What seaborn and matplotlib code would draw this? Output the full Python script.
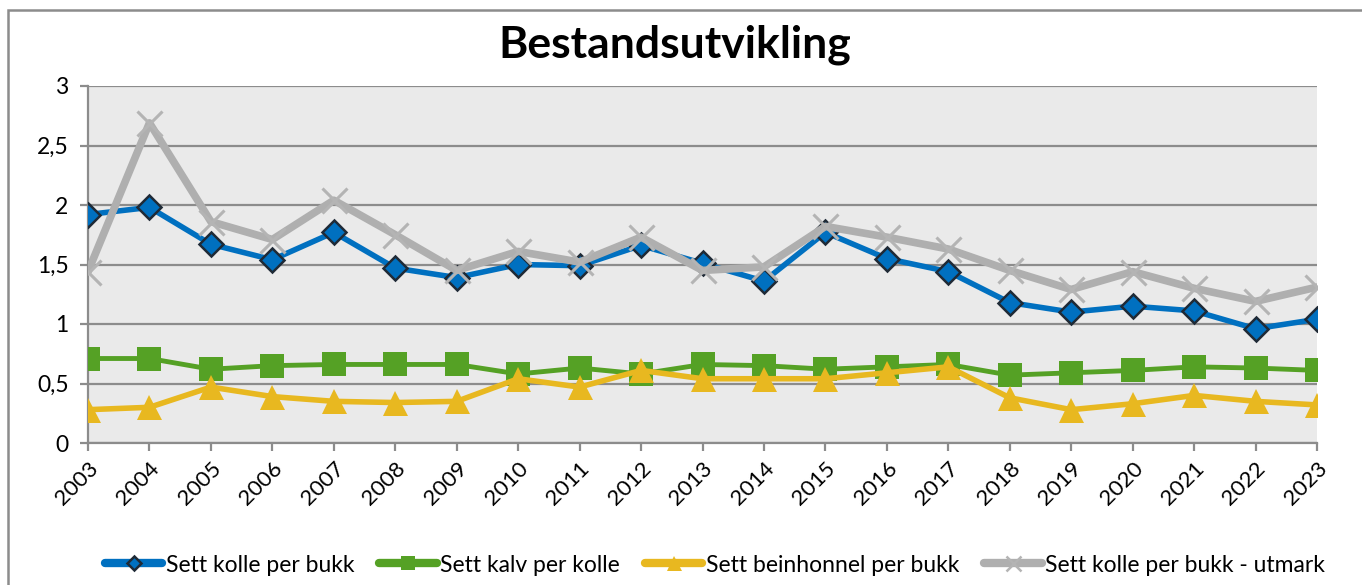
import numpy as np
import pandas as pd
import matplotlib
matplotlib.use("Agg")
import matplotlib.pyplot as plt
import seaborn as sns
from matplotlib.patches import Rectangle
from matplotlib.lines import Line2D

years = [str(y) for y in range(2003, 2024)]

kolle_per_bukk = [1.92, 1.98, 1.67, 1.54, 1.77, 1.47, 1.39, 1.50, 1.49, 1.66, 1.51,
                  1.36, 1.77, 1.55, 1.44, 1.18, 1.10, 1.15, 1.11, 0.96, 1.04]
kalv_per_kolle = [0.71, 0.71, 0.62, 0.65, 0.66, 0.66, 0.66, 0.58, 0.63, 0.58, 0.66,
                  0.65, 0.62, 0.64, 0.66, 0.57, 0.59, 0.61, 0.64, 0.63, 0.61]
beinhonnel_per_bukk = [0.28, 0.30, 0.47, 0.39, 0.35, 0.34, 0.35, 0.54, 0.47, 0.61, 0.54,
                       0.54, 0.54, 0.59, 0.64, 0.38, 0.28, 0.33, 0.40, 0.35, 0.32]
kolle_per_bukk_utmark = [1.44, 2.69, 1.86, 1.71, 2.04, 1.75, 1.45, 1.61, 1.52, 1.73, 1.45,
                         1.48, 1.82, 1.73, 1.63, 1.45, 1.29, 1.44, 1.30, 1.19, 1.31]

series_names = ["Sett kolle per bukk", "Sett kalv per kolle",
                "Sett beinhonnel per bukk", "Sett kolle per bukk - utmark"]
y_ticks = [0, 0.5, 1, 1.5, 2, 2.5, 3]
y_tick_labels = ["0", "0,5", "1", "1,5", "2", "2,5", "3"]

sns.set_style("white")
plt.rcParams['font.family'] = ['Lato', 'DejaVu Sans']
plt.rcParams['text.color'] = 'black'
plt.rcParams['xtick.labelcolor'] = 'black'
plt.rcParams['ytick.labelcolor'] = 'black'

fig = plt.figure(figsize=(13.62, 5.85), dpi=100)
ax = fig.add_axes([88/1362, 1-443/585, (1317-88)/1362, (443-86)/585])
ax.set_facecolor("#EAEAEA")

# outer chart border (runs off the right and bottom edge)
fig.patches.append(Rectangle((8/1362, -0.05), 1.2, 1 - 10/585 + 0.05, transform=fig.transFigure,
                             fill=False, edgecolor="#8C8C8C", lw=1.8, zorder=0))

x = np.arange(len(years))
styles = [
    dict(color="#0070C0", marker="D", markersize=12.5, markerfacecolor="#0070C0",
         markeredgecolor="#1F2A36", markeredgewidth=1.8, lw=4),
    dict(color="#55A125", marker="s", markersize=17.5, markerfacecolor="#55A125",
         markeredgecolor="#55A125", markeredgewidth=0, lw=3.5),
    dict(color="#E8B820", marker="^", markersize=18, markerfacecolor="#E8B820",
         markeredgecolor="#E8B820", markeredgewidth=0, lw=4),
    dict(color="#AFAFAF", marker="x", markersize=18, markeredgecolor="#B4B4B4",
         markeredgewidth=2.2, lw=5.5),
]
values = [kolle_per_bukk, kalv_per_kolle, beinhonnel_per_bukk, kolle_per_bukk_utmark]
for i, (vals, st) in enumerate(zip(values, styles)):
    sns.lineplot(x=x, y=vals, ax=ax, zorder=3 + i, legend=False, **st)

ax.set_xlim(0, len(years) - 1)
ax.set_ylim(0, 3)
ax.set_yticks(y_ticks)
ax.set_yticklabels(y_tick_labels, fontsize=16.5, color="black")
ax.set_xticks(x)
ax.set_xticklabels(years, rotation=45, ha="right", rotation_mode="anchor", fontsize=16,
                   color="black")
ax.grid(axis="y", color="#8C8C8C", lw=1.6, zorder=1)
ax.set_axisbelow(True)
ax.tick_params(axis="both", direction="out", length=6, width=1.6, color="#8C8C8C",
               left=True, bottom=True, pad=5)
ax.tick_params(axis="y", pad=8)

for side in ["top", "right"]:
    ax.spines[side].set_visible(False)
for side in ["left", "bottom"]:
    ax.spines[side].set_color("#8C8C8C")
    ax.spines[side].set_linewidth(1.6)

fig.text(675/1362, 1-45/585, "Bestandsutvikling", ha="center", va="center",
         fontsize=32, fontweight="bold", color="black")

# legend handles: thick line with a small marker
handles = []
for st in styles:
    h = Line2D([], [], color=st["color"], lw=6, solid_capstyle="round",
               marker=st["marker"], markersize=st["markersize"] * 0.6,
               markerfacecolor=st.get("markerfacecolor", "none"),
               markeredgecolor=st["markeredgecolor"],
               markeredgewidth=min(st["markeredgewidth"], 1.8))
    handles.append(h)
leg = fig.legend(handles, series_names, loc="center", bbox_to_anchor=(715/1362, 1-565/585),
                 ncol=4, frameon=False, fontsize=16.5, handlelength=2.5,
                 handletextpad=0.15, columnspacing=1.1)
for t in leg.get_texts():
    t.set_color("black")

fig.savefig("out.png", dpi=100)
